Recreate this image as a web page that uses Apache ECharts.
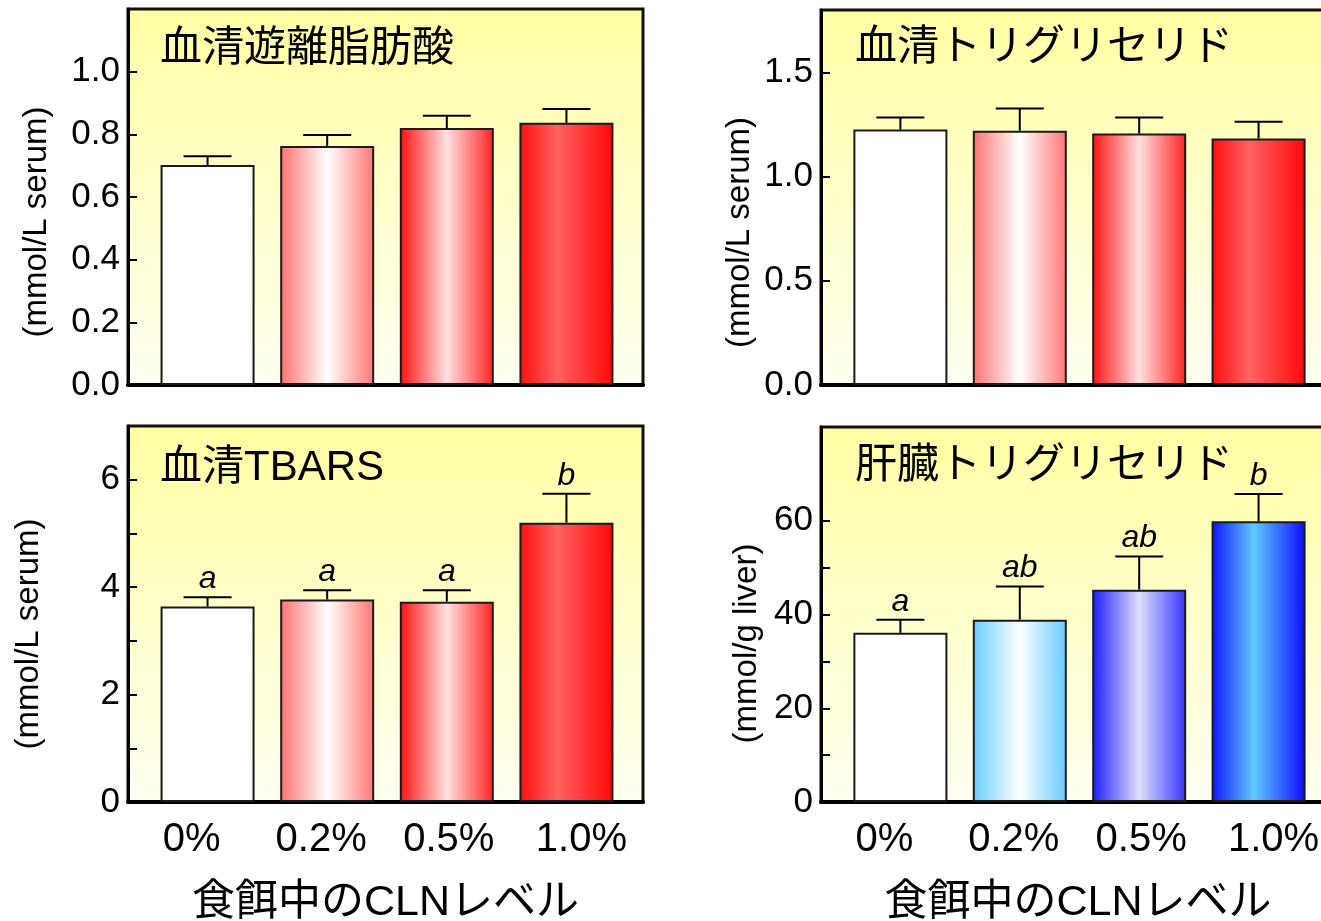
<!DOCTYPE html>
<html>
<head>
<meta charset="utf-8">
<script src="https://cdn.jsdelivr.net/npm/echarts@6/dist/echarts.min.js"></script>
<style>
  html, body { margin: 0; padding: 0; background: #fff; }
  #chart { width: 1321px; height: 921px; }
</style>
</head>
<body>
<div id="chart"></div>
<script>
// CLN level in the diet
const categories = ['0%', '0.2%', '0.5%', '1.0%']

// 血清遊離脂肪酸 (mmol/L serum)
const ffaMean = [0.702, 0.763, 0.820, 0.837]
const ffaSe = [0.028, 0.035, 0.039, 0.044]
const ffaTicks = [0, 0.2, 0.4, 0.6, 0.8, 1.0]
const ffaLabels = [0, 0.2, 0.4, 0.6, 0.8, 1.0]

// 血清トリグリセリド (mmol/L serum)
const serumTgMean = [1.226, 1.221, 1.207, 1.183]
const serumTgSe = [0.058, 0.106, 0.077, 0.081]
const serumTgTicks = [0, 0.5, 1.0, 1.5]
const serumTgLabels = [0, 0.5, 1.0, 1.5]

// 血清TBARS (mmol/L serum)
const tbarsMean = [3.64, 3.77, 3.73, 5.20]
const tbarsSe = [0.17, 0.17, 0.21, 0.54]
const tbarsLetters = ['a', 'a', 'a', 'b']
const tbarsTicks = [0, 1, 2, 3, 4, 5, 6]
const tbarsLabels = [0, 2, 4, 6]

// 肝臓トリグリセリド (mmol/g liver)
const liverTgMean = [36.1, 38.9, 45.3, 59.9]
const liverTgSe = [2.8, 7.1, 7.1, 5.8]
const liverTgLetters = ['a', 'ab', 'ab', 'b']
const liverTgTicks = [0, 10, 20, 30, 40, 50, 60]
const liverTgLabels = [0, 20, 40, 60]

const FONT = '"Liberation Sans Narrow", "Liberation Sans", "Noto Sans CJK JP", sans-serif'
const CJK = '"Liberation Sans", "Noto Sans CJK JP", sans-serif'

const grad = (stops) => ({
  type: 'linear', x: 0, y: 0, x2: 1, y2: 0,
  colorStops: stops.map(s => ({ offset: s[0], color: s[1] }))
})

const redFills = [
  grad([[0, '#ffffff'], [1, '#ffffff']]),
  grad([[0, '#ff7070'], [0.5, '#ffffff'], [1, '#ff7575']]),
  grad([[0, '#ff1010'], [0.5, '#ffe0e0'], [1, '#ff2222']]),
  grad([[0, '#ff0d0d'], [0.4, '#ff6262'], [1, '#ff0808']])
]
const blueFills = [
  grad([[0, '#ffffff'], [1, '#ffffff']]),
  grad([[0, '#66ccff'], [0.5, '#ffffff'], [1, '#66ccff']]),
  grad([[0, '#1a1aff'], [0.5, '#e0e0ff'], [1, '#3333ff']]),
  grad([[0, '#0a14ff'], [0.45, '#62c8ff'], [1, '#0a0aff']])
]

const bgFill = {
  type: 'linear', x: 0, y: 0, x2: 0, y2: 1,
  colorStops: [{ offset: 0, color: '#ffffa4' }, { offset: 1, color: '#fffff2' }]
}

// x tick labels sit a little wider apart than the bars
const labelRich = {
  l0: { padding: [0, 32, 0, 0] },
  l1: { padding: [0, 12, 0, 0] },
  l2: { padding: [0, 0, 0, 4] },
  l3: { padding: [0, 0, 0, 30] }
}

const panels = [
  { title: '血清遊離脂肪酸', yName: '(mmol/L serum)', mean: ffaMean, se: ffaSe, fills: redFills,
    max: 1.2, ticks: ffaTicks, labels: ffaLabels, fmt: v => v.toFixed(1),
    grid: { left: 128, top: 9, width: 515, height: 376 }, titlePos: [160, 28], nameGap: 75, namePad: 50, bottom: false },
  { title: '血清トリグリセリド', yName: '(mmol/L serum)', mean: serumTgMean, se: serumTgSe, fills: redFills,
    max: 1.8, ticks: serumTgTicks, labels: serumTgLabels, fmt: v => v.toFixed(1),
    grid: { left: 821, top: 10, width: 514, height: 375 }, titlePos: [855, 27], nameGap: 65, namePad: 70, bottom: false },
  { title: '血清TBARS', yName: '(mmol/L serum)', mean: tbarsMean, se: tbarsSe, fills: redFills, letters: tbarsLetters,
    max: 7, ticks: tbarsTicks, labels: tbarsLabels, fmt: v => String(v),
    grid: { left: 128, top: 426, width: 515, height: 376 }, titlePos: [160, 447], nameGap: 83, namePad: 40, bottom: true },
  { title: '肝臓トリグリセリド', yName: '(mmol/g liver)', mean: liverTgMean, se: liverTgSe, fills: blueFills, letters: liverTgLetters,
    max: 80, ticks: liverTgTicks, labels: liverTgLabels, fmt: v => String(v),
    grid: { left: 821, top: 427, width: 514, height: 375 }, titlePos: [855, 445], nameGap: 58, namePad: 58, bottom: true }
]

const option = {
  animation: false,
  backgroundColor: '#ffffff',
  title: panels.map(p => ({
    text: p.title, left: p.titlePos[0], top: p.titlePos[1], padding: 0,
    textStyle: { fontFamily: CJK, fontSize: 42, fontWeight: 'normal', color: '#000' }
  })),
  grid: panels.map(p => ({
    ...p.grid, show: true, backgroundColor: bgFill, borderColor: '#111', borderWidth: 3,
    containLabel: false, outerBoundsMode: 'none'
  })),
  xAxis: panels.map((p, i) => ({
    type: 'value', gridIndex: i, min: -0.665, max: 3.64,
    axisLine: { show: true, onZero: false, lineStyle: { color: '#000', width: 4 } },
    axisTick: { show: false },
    splitLine: { show: false },
    axisLabel: {
      show: p.bottom, margin: 18, fontFamily: FONT, fontSize: 40, color: '#000',
      customValues: [0, 1, 2, 3], rich: labelRich,
      formatter: v => `{l${v}|${categories[v]}}`
    },
    name: p.bottom ? '食餌中のCLNレベル' : '',
    nameLocation: 'middle', nameGap: 80,
    nameTextStyle: { fontFamily: CJK, fontSize: 43, color: '#000', verticalAlign: 'top' }
  })),
  yAxis: panels.map((p, i) => ({
    type: 'value', gridIndex: i, min: 0, max: p.max,
    axisLine: { show: true, onZero: false, lineStyle: { color: '#000', width: 3 } },
    axisTick: { show: true, inside: true, length: 9, customValues: p.ticks, lineStyle: { color: '#000', width: 2 } },
    splitLine: { show: false },
    axisLabel: { margin: 8, fontFamily: FONT, fontSize: 35, color: '#000', customValues: p.labels, formatter: p.fmt },
    name: p.yName, nameLocation: 'middle', nameRotate: 90, nameGap: p.nameGap,
    nameTextStyle: { fontFamily: FONT, fontSize: 33, color: '#000', padding: [0, p.namePad, 0, 0] }
  })),
  series: panels.flatMap((p, i) => [
    {
      type: 'bar', xAxisIndex: i, yAxisIndex: i, barWidth: 94,
      data: p.mean.map((m, k) => ({
        value: [k, m],
        itemStyle: { color: p.fills[k], borderColor: '#1a1a1a', borderWidth: 2 }
      }))
    },
    {
      type: 'custom', xAxisIndex: i, yAxisIndex: i, z: 3,
      data: p.mean.map((m, k) => [k, m, m + p.se[k]]),
      renderItem: (params, api) => {
        const base = api.coord([api.value(0), api.value(1)])
        const top = api.coord([api.value(0), api.value(2)])
        const letter = p.letters ? p.letters[params.dataIndex] : ''
        const children = [
          { type: 'line', shape: { x1: base[0], y1: base[1], x2: top[0], y2: top[1] },
            style: { stroke: '#000', lineWidth: 2 } },
          { type: 'line', shape: { x1: top[0] - 24, y1: top[1], x2: top[0] + 24, y2: top[1] },
            style: { stroke: '#000', lineWidth: 2 } }
        ]
        if (letter) {
          children.push({
            type: 'text',
            style: {
              x: top[0], y: top[1] - 2, text: letter, align: 'center', verticalAlign: 'bottom',
              font: 'italic 32px "Liberation Sans", sans-serif', fill: '#000'
            }
          })
        }
        return { type: 'group', children }
      }
    }
  ])
}

const chart = echarts.init(document.getElementById('chart'))
chart.setOption(option)
</script>
</body>
</html>
